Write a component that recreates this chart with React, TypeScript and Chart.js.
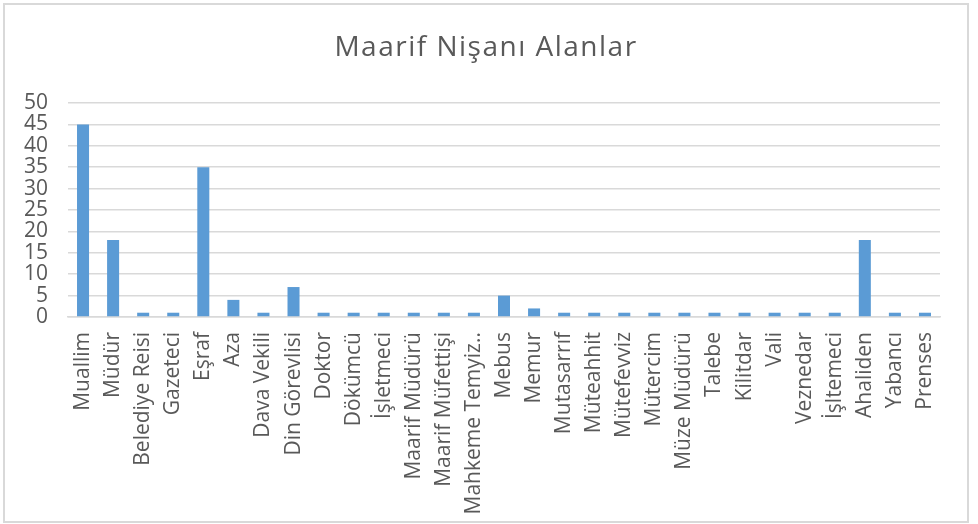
import React, { useEffect, useRef } from "react";
import { Chart, registerables } from "chart.js";

Chart.register(...registerables);

const categories: string[] = [
  "Muallim", "Müdür", "Belediye Reisi", "Gazeteci", "Eşraf", "Aza", "Dava Vekili",
  "Din Görevlisi", "Doktor", "Dökümcü", "İşletmeci", "Maarif Müdürü", "Maarif Müfettişi",
  "Mahkeme Temyiz..", "Mebus", "Memur", "Mutasarrıf", "Müteahhit", "Mütefevviz",
  "Mütercim", "Müze Müdürü", "Talebe", "Kilitdar", "Vali", "Veznedar", "İşltemeci",
  "Ahaliden", "Yabancı", "Prenses",
];
const counts: number[] = [
  45, 18, 1, 1, 35, 4, 1, 7, 1, 1, 1, 1, 1, 1, 5, 2, 1, 1, 1, 1, 1, 1, 1, 1, 1, 1, 18, 1, 1,
];
const chartTitle = "Maarif Nişanı Alanlar";
const yMax = 50;
const yStep = 5;

const FONT = "'Open Sans', sans-serif";
const TEXT = "#595959";
const GRID = "#d9d9d9";

const titlePlugin = {
  id: "spacedTitle",
  afterDraw(chart: any) {
    const ctx = chart.ctx as CanvasRenderingContext2D;
    ctx.save();
    (ctx as any).letterSpacing = "1.5px";
    ctx.font = `28px ${FONT}`;
    ctx.fillStyle = TEXT;
    ctx.textAlign = "center";
    ctx.textBaseline = "alphabetic";
    ctx.fillText(chartTitle, 486, 56);
    ctx.restore();
  },
};

export default function App() {
  const ref = useRef<HTMLCanvasElement | null>(null);
  useEffect(() => {
    if (!ref.current) return;
    const chart = new Chart(ref.current, {
      type: "bar",
      data: {
        labels: categories,
        datasets: [
          {
            data: counts,
            backgroundColor: "#5b9bd5",
            barPercentage: 0.4,
            categoryPercentage: 1,
          },
        ],
      },
      options: {
        animation: false,
        responsive: false,
        maintainAspectRatio: false,
        layout: { padding: { left: 0, right: 38, top: 103, bottom: 0 } },
        plugins: {
          legend: { display: false },
          tooltip: { enabled: false },
          title: { display: false },
        },
        scales: {
          x: {
            grid: { display: false, drawTicks: false },
            border: { display: true, color: GRID, width: 1.5 },
            ticks: {
              color: TEXT,
              font: { family: FONT, size: 21 },
              maxRotation: 90,
              minRotation: 90,
              autoSkip: false,
              padding: 15,
            },
            afterFit: (s: any) => {
              s.height = 207;
            },
          },
          y: {
            min: 0,
            max: yMax,
            grid: { color: GRID, lineWidth: 1.5, drawTicks: false },
            border: { display: false },
            ticks: {
              stepSize: yStep,
              autoSkip: false,
              color: TEXT,
              font: { family: FONT, size: 21 },
              padding: 20,
            },
            afterFit: (s: any) => {
              s.width = 68;
            },
          },
        },
      },
      plugins: [titlePlugin],
    });
    return () => chart.destroy();
  }, []);
  return (
    <div style={{ position: "fixed", left: 0, top: 0, width: 978, height: 524, background: "#fff" }}>
      <div
        style={{
          position: "absolute",
          left: 3,
          top: 3,
          width: 962,
          height: 516,
          border: "2px solid #d9d9d9",
        }}
      />
      <canvas ref={ref} width={978} height={524} style={{ position: "absolute", left: 0, top: 0 }} />
    </div>
  );
}
